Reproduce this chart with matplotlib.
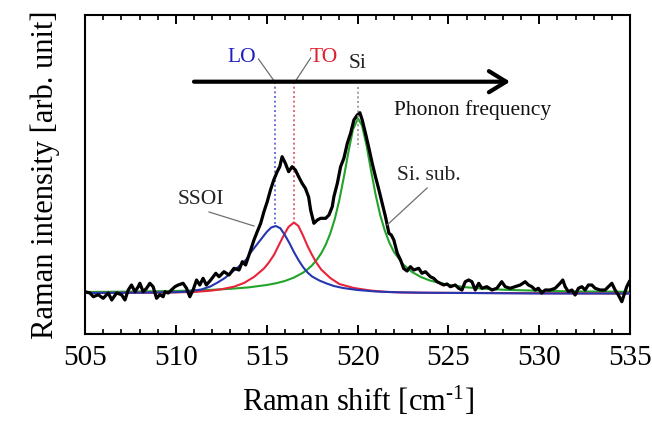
import matplotlib
matplotlib.use('Agg')
import matplotlib.pyplot as plt
from matplotlib.ticker import MultipleLocator

plt.rcParams['font.family'] = ['Liberation Serif', 'DejaVu Serif']
plt.rcParams['mathtext.fontset'] = 'custom'
plt.rcParams['mathtext.rm'] = 'Liberation Serif'
plt.rcParams['mathtext.it'] = 'Liberation Serif:italic'
plt.rcParams['mathtext.bf'] = 'Liberation Serif:bold'

# ---- measured spectrum (black) ----
black_x = [505.0, 505.27, 505.46, 505.73, 506.0, 506.28, 506.47, 506.74, 507.01, 507.2,
           507.38, 507.56, 507.75, 507.93, 508.02, 508.2, 508.39, 508.57, 508.75, 508.85,
           508.94, 509.12, 509.3, 509.4, 509.58, 509.76, 509.95, 510.13, 510.4, 510.59,
           510.77, 510.95, 511.14, 511.32, 511.5, 511.68, 511.92, 512.2, 512.38, 512.65,
           512.93, 513.2, 513.48, 513.66, 513.84, 514.12, 514.3, 514.48, 514.67, 514.85,
           515.03, 515.21, 515.39, 515.58, 515.72, 515.85, 516.03, 516.21, 516.4, 516.58,
           516.76, 516.95, 517.13, 517.31, 517.42, 517.6, 517.79, 517.97, 518.25, 518.43,
           518.61, 518.7, 518.89, 519.07, 519.25, 519.44, 519.62, 519.8, 519.99, 520.13,
           520.26, 520.44, 520.63, 520.81, 520.99, 521.18, 521.36, 521.54, 521.73, 521.86,
           522.0, 522.19, 522.37, 522.54, 522.73, 522.91, 523.1, 523.37, 523.55, 523.74,
           524.01, 524.19, 524.38, 524.56, 524.74, 524.93, 525.11, 525.38, 525.57, 525.75,
           525.93, 526.12, 526.3, 526.48, 526.67, 526.85, 527.12, 527.4, 527.67, 527.94,
           528.13, 528.4, 528.68, 528.96, 529.23, 529.41, 529.6, 529.78, 529.96, 530.14,
           530.33, 530.6, 530.88, 531.15, 531.3, 531.43, 531.61, 531.8, 531.98, 532.16,
           532.35, 532.53, 532.71, 532.9, 533.08, 533.35, 533.63, 533.81, 534.0, 534.18,
           534.36, 534.55, 534.64, 534.82, 534.96]
black_y = [0.013, 0.0, -0.037, -0.017, -0.053, 0.0, -0.07, 0.0, -0.017, -0.07,
           0.03, 0.08, 0.013, 0.063, 0.097, 0.013, 0.047, 0.097, 0.063, 0.0,
           -0.053, -0.017, -0.037, 0.013, 0.0, 0.03, 0.063, 0.08, 0.097, 0.047,
           -0.037, 0.03, 0.13, 0.08, 0.147, 0.08, 0.13, 0.197, 0.163, 0.213,
           0.18, 0.247, 0.23, 0.313, 0.28, 0.43, 0.53, 0.613, 0.697, 0.813,
           0.913, 1.03, 1.13, 1.213, 1.263, 1.363, 1.297, 1.213, 1.263, 1.23,
           1.163, 1.097, 1.047, 0.96, 0.83, 0.697, 0.73, 0.747, 0.747, 0.78,
           0.863, 0.963, 1.097, 1.263, 1.347, 1.497, 1.597, 1.73, 1.78, 1.803,
           1.73, 1.597, 1.447, 1.297, 1.163, 1.03, 0.897, 0.763, 0.597, 0.58,
           0.53, 0.397, 0.33, 0.245, 0.22, 0.263, 0.23, 0.247, 0.197, 0.213,
           0.163, 0.147, 0.113, 0.097, 0.08, 0.09, 0.063, 0.08, 0.047, 0.03,
           0.113, 0.13, 0.113, 0.03, 0.097, 0.047, 0.063, 0.03, 0.047, 0.113,
           0.063, 0.047, 0.063, 0.08, 0.113, 0.08, 0.063, 0.03, 0.047, 0.0,
           0.03, 0.03, 0.047, 0.097, 0.13, 0.063, 0.013, 0.03, -0.02, 0.047,
           0.063, 0.03, 0.08, 0.08, 0.047, 0.03, 0.03, 0.063, 0.097, 0.03,
           -0.02, -0.087, -0.037, 0.063, 0.113]

# ---- LO component (blue) ----
lo_x = [505.0, 508.0, 510.0, 510.5, 511.0, 511.4, 511.9, 512.3, 512.7, 513.0,
        513.3, 513.6, 513.9, 514.1, 514.4, 514.7, 515.0, 515.25, 515.5, 515.75,
        516.0, 516.25, 516.5, 516.75, 517.0, 517.25, 517.5, 517.9, 518.3, 518.7,
        519.2, 520.0, 521.0, 522.0, 523.5, 526.0, 530.0, 535.0]
lo_y = [0.0, 0.003, 0.008, 0.013, 0.025, 0.035, 0.065, 0.105, 0.15, 0.195,
        0.24, 0.285, 0.34, 0.40, 0.47, 0.54, 0.61, 0.655, 0.67, 0.648,
        0.58, 0.5, 0.41, 0.33, 0.26, 0.205, 0.165, 0.125, 0.095, 0.07,
        0.05, 0.03, 0.015, 0.008, 0.003, 0.0, -0.005, -0.005]

# ---- TO component (red) ----
to_x = [505.0, 509.0, 511.0, 511.9, 512.5, 513.2, 513.75, 514.3, 514.85, 515.1,
        515.4, 515.7, 515.95, 516.2, 516.5, 516.75, 517.0, 517.25, 517.5, 517.75,
        518.0, 518.5, 519.0, 519.8, 520.7, 521.5, 522.5, 524.0, 527.0, 535.0]
to_y = [0.0, 0.003, 0.01, 0.023, 0.037, 0.063, 0.10, 0.16, 0.245, 0.30,
        0.38, 0.49, 0.58, 0.66, 0.705, 0.67, 0.575, 0.47, 0.38, 0.30,
        0.235, 0.15, 0.09, 0.05, 0.025, 0.012, 0.005, 0.002, 0.0, -0.005]

# ---- Si substrate component (green) ----
si_x = [505.0, 508.0, 510.0, 511.0, 512.0, 513.0, 514.0, 515.0, 515.5, 516.0,
        516.5, 517.0, 517.25, 517.5, 517.75, 518.0, 518.25, 518.5, 518.75, 519.0,
        519.25, 519.5, 519.75, 520.03, 520.25, 520.5, 520.75, 521.0, 521.25, 521.5,
        521.75, 522.0, 522.5, 523.0, 523.5, 524.0, 525.0, 526.0, 527.0, 528.0,
        530.0, 532.0, 535.0]
si_y = [0.01, 0.015, 0.02, 0.025, 0.032, 0.042, 0.056, 0.08, 0.097, 0.12,
        0.154, 0.203, 0.236, 0.277, 0.33, 0.396, 0.482, 0.595, 0.74, 0.93,
        1.16, 1.41, 1.635, 1.745, 1.675, 1.472, 1.22, 0.98, 0.78, 0.625,
        0.505, 0.413, 0.288, 0.21, 0.159, 0.124, 0.081, 0.057, 0.042, 0.033,
        0.022, 0.016, 0.012]

x_ticks = [505, 510, 515, 520, 525, 530, 535]
peak_pos = {'LO': 515.45, 'TO': 516.5, 'Si': 520.0}

fig = plt.figure(figsize=(6.52, 4.26), dpi=100)
ax = fig.add_axes([85/652, 1-334/426, (630-85)/652, (334-15)/426])

ax.plot(si_x, si_y, color='#22a32a', lw=1.5, zorder=2)
ax.plot(to_x, to_y, color='#e8233a', lw=1.5, zorder=3)
ax.plot(lo_x, lo_y, color='#2536b0', lw=1.5, zorder=4)
ax.plot(black_x, black_y, color='black', lw=2.3, solid_joinstyle='round', zorder=5)

arrow_y = 2.113
# dotted guide lines
ax.plot([peak_pos['LO'], peak_pos['LO']], [arrow_y, 0.67], ls=(0, (1.2, 1.6)), color='#5a5ad6', lw=1.2, zorder=1)
ax.plot([peak_pos['TO'], peak_pos['TO']], [arrow_y, 0.70], ls=(0, (1.2, 1.6)), color='#e05060', lw=1.2, zorder=1)
ax.plot([peak_pos['Si'], peak_pos['Si']], [2.06, 1.45], ls=(0, (1.2, 1.6)), color='#909090', lw=1.2, zorder=6)

# phonon frequency arrow
ax.annotate('', xy=(528.4, arrow_y), xytext=(511.0, arrow_y),
            arrowprops=dict(arrowstyle='->,head_length=0.62,head_width=0.38',
                            lw=3.0, color='black', shrinkA=0, shrinkB=0,
                            mutation_scale=20), zorder=7)

fs = 15.5
ax.text(513.63, 2.36, 'LO', color='#2020c0', fontsize=fs, ha='center', va='center')
ax.plot([514.55, 515.4], [2.34, arrow_y + 0.01], color='#707070', lw=0.9)
ax.text(518.15, 2.36, 'TO', color='#e01f2f', fontsize=fs, ha='center', va='center')
ax.plot([517.42, 516.6], [2.35, arrow_y + 0.01], color='#707070', lw=0.9)
ax.text(520.0, 2.29, 'Si', color='#222222', fontsize=fs, ha='center', va='center')
ax.text(522.0, 1.83, 'Phonon frequency', color='#111111', fontsize=fs, ha='left', va='center')
ax.text(511.37, 0.93, 'SSOI', color='#222222', fontsize=fs, ha='center', va='center')
ax.plot([511.83, 514.3], [0.81, 0.67], color='#707070', lw=0.9, zorder=6)
ax.text(523.9, 1.18, 'Si. sub.', color='#222222', fontsize=fs, ha='center', va='center')
ax.plot([523.83, 521.63], [1.05, 0.68], color='#707070', lw=0.9, zorder=6)

ax.set_xlim(505, 535)
ax.set_ylim(-0.41, 2.78)
ax.set_xticks(x_ticks)
ax.set_xticklabels([str(t) for t in x_ticks], fontsize=21)
ax.xaxis.set_minor_locator(MultipleLocator(1))
ax.tick_params(axis='x', which='major', direction='in', length=6.5, width=1.4,
               top=True, bottom=True, pad=8)
ax.tick_params(axis='x', which='minor', direction='in', length=3.3, width=1.2,
               top=True, bottom=True)
ax.set_yticks([])
for s in ax.spines.values():
    s.set_linewidth(1.5)

ax.set_xlabel('Raman shift [cm$^{\\mathregular{\u2010}1}$]', fontsize=22, labelpad=10)
ax.set_ylabel('Raman intensity [arb. unit]', fontsize=22, labelpad=18)

fig.savefig('out.png', dpi=100)
